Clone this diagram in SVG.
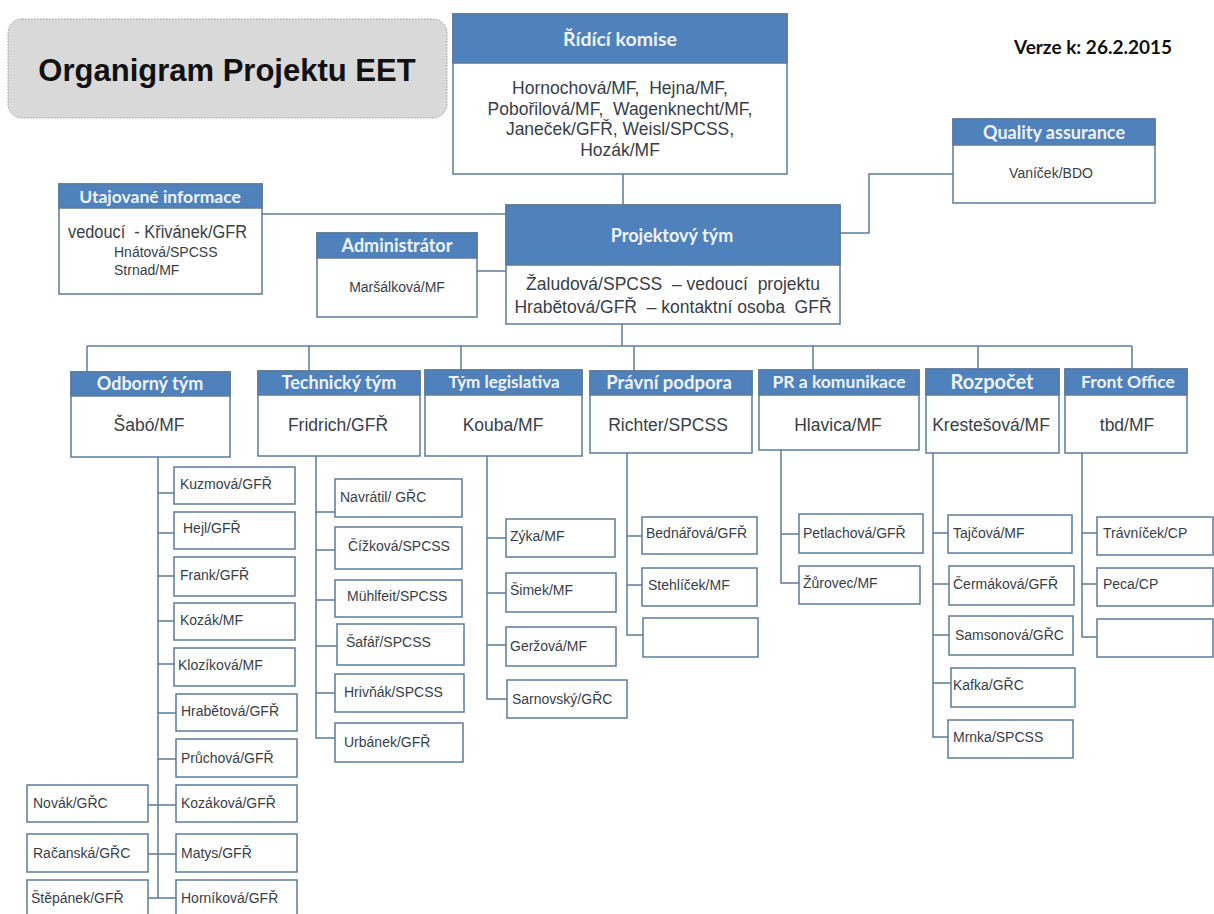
<svg xmlns="http://www.w3.org/2000/svg" width="1214" height="914" viewBox="0 0 1214 914">
  <style>
    .box { fill: #ffffff; stroke: #5e7b98; stroke-width: 1.5; }
    .hdr { fill: #4f81bd; stroke: #5e7b98; stroke-width: 1.5; }
    .ln { fill: none; stroke: #5e7b98; stroke-width: 1.5; }
    .ht { font-family: Lato, "Open Sans", sans-serif; font-weight: bold; fill: #eef3fa; text-anchor: middle; }
    .bt { font-family: "Liberation Sans", Arial, sans-serif; fill: #383e48; white-space: pre; }
    .c { text-anchor: middle; }
    .s { font-size: 14px; }
    .m { font-size: 17.5px; }
  </style>

  <!-- title -->
  <g id="title">
    <rect x="8" y="19" width="439" height="99" rx="14" fill="#d9d9d9" stroke="#9a9a9a" stroke-width="1" stroke-dasharray="1.5 1.5"/>
    <text x="227" y="81" font-family="Liberation Sans, Arial, sans-serif" font-weight="bold" font-size="31" fill="#111" text-anchor="middle">Organigram Projektu EET</text>
  </g>

  <g id="version">
    <text x="1093" y="54" font-family="Lato, sans-serif" font-weight="bold" font-size="19" fill="#111" text-anchor="middle">Verze k: 26.2.2015</text>
  </g>

  <!-- connectors -->
  <g id="connectors" class="ln">
    <path d="M623 174V205"/>
    <path d="M262 214H506"/>
    <path d="M477 271H506"/>
    <path d="M953 174H869V233H840"/>
    <path d="M622 324V346"/>
    <path d="M87 346H1132"/>
    <path d="M87 346V372M309 346V371M461 346V370M634 346V371M813 346V370M978 346V369M1132 346V369"/>
    <!-- Odborný tým -->
    <path d="M158 457V898M158 493H174M158 533H174M158 576H174M158 621H174M158 664H174M158 713H176M158 759H176"/>
    <path d="M148 805H176M148 854H176M148 898H176"/>
    <!-- Technický tým -->
    <path d="M316 437V738H335M316 512H335M316 550H335M316 600H335M316 646H337M316 693H335"/>
    <!-- Tým legislativa -->
    <path d="M487 456V699H507M487 538H506M487 593H506M487 645H506"/>
    <!-- Právní podpora -->
    <path d="M627 453V635H643M627 536H642M627 585H642"/>
    <!-- PR a komunikace -->
    <path d="M781 450V583H799M781 534H799"/>
    <!-- Rozpočet -->
    <path d="M933 453V737H948M933 533H948M933 584H949M933 635H949M933 683H951"/>
    <!-- Front Office -->
    <path d="M1082 453V637H1097M1082 533H1097M1082 584H1097"/>
  </g>

  <!-- top level -->
  <g id="ridici-komise">
    <rect class="box" x="453" y="14" width="334" height="160"/>
    <rect class="hdr" x="453" y="14" width="334" height="49"/>
    <text class="ht" x="620" y="46" font-size="19.5">Řídící komise</text>
    <text class="bt m c" x="620" y="94">Hornochová/MF,  Hejna/MF,</text>
    <text class="bt m c" x="620" y="114.5">Pobořilová/MF,  Wagenknecht/MF,</text>
    <text class="bt m c" x="620" y="135">Janeček/GFŘ, Weisl/SPCSS,</text>
    <text class="bt m c" x="620" y="155.5">Hozák/MF</text>
  </g>

  <g id="quality-assurance">
    <rect class="box" x="953" y="119" width="202" height="84"/>
    <rect class="hdr" x="953" y="119" width="202" height="26"/>
    <text class="ht" x="1054" y="139" font-size="18">Quality assurance</text>
    <text class="bt s c" x="1051" y="178">Vaníček/BDO</text>
  </g>

  <g id="utajovane-informace">
    <rect class="box" x="59" y="184" width="203" height="110"/>
    <rect class="hdr" x="59" y="184" width="203" height="24"/>
    <text class="ht" x="160" y="203" font-size="17.5">Utajované informace</text>
    <text class="bt" x="68" y="238" font-size="18" textLength="179" lengthAdjust="spacingAndGlyphs">vedoucí  - Křivánek/GFR</text>
    <text class="bt s" x="114" y="257">Hnátová/SPCSS</text>
    <text class="bt s" x="114" y="275">Strnad/MF</text>
  </g>

  <g id="administrator">
    <rect class="box" x="317" y="233" width="160" height="84"/>
    <rect class="hdr" x="317" y="233" width="160" height="25"/>
    <text class="ht" x="397" y="252" font-size="18">Administrátor</text>
    <text class="bt s c" x="397" y="292">Maršálková/MF</text>
  </g>

  <g id="projektovy-tym">
    <rect class="box" x="506" y="205" width="334" height="119"/>
    <rect class="hdr" x="506" y="205" width="334" height="60"/>
    <text class="ht" x="672" y="242" font-size="18">Projektový tým</text>
    <text class="bt m c" x="673" y="290">Žaludová/SPCSS  – vedoucí  projektu</text>
    <text class="bt m c" x="673" y="313">Hrabětová/GFŘ  – kontaktní osoba  GFŘ</text>
  </g>

  <!-- teams -->
  <g id="odborny-tym">
    <rect class="box" x="71" y="372" width="159" height="85"/>
    <rect class="hdr" x="71" y="372" width="159" height="24"/>
    <text class="ht" x="150" y="390" font-size="18">Odborný tým</text>
    <text class="bt m c" x="149" y="431">Šabó/MF</text>
  </g>
  <g id="technicky-tym">
    <rect class="box" x="258" y="371" width="162" height="85"/>
    <rect class="hdr" x="258" y="371" width="162" height="24"/>
    <text class="ht" x="339" y="389" font-size="18">Technický tým</text>
    <text class="bt m c" x="338" y="431">Fridrich/GFŘ</text>
  </g>
  <g id="tym-legislativa">
    <rect class="box" x="425" y="370" width="157" height="86"/>
    <rect class="hdr" x="425" y="370" width="157" height="25"/>
    <text class="ht" x="504" y="388" font-size="17">Tým legislativa</text>
    <text class="bt m c" x="503" y="431">Kouba/MF</text>
  </g>
  <g id="pravni-podpora">
    <rect class="box" x="590" y="371" width="162" height="82"/>
    <rect class="hdr" x="590" y="371" width="162" height="24"/>
    <text class="ht" x="669" y="389" font-size="18.5">Právní podpora</text>
    <text class="bt m c" x="668" y="431">Richter/SPCSS</text>
  </g>
  <g id="pr-komunikace">
    <rect class="box" x="759" y="370" width="160" height="80"/>
    <rect class="hdr" x="759" y="370" width="160" height="25"/>
    <text class="ht" x="839" y="388" font-size="17.5">PR a komunikace</text>
    <text class="bt m c" x="838" y="431">Hlavica/MF</text>
  </g>
  <g id="rozpocet">
    <rect class="box" x="926" y="369" width="133" height="84"/>
    <rect class="hdr" x="926" y="369" width="133" height="26"/>
    <text class="ht" x="992" y="389" font-size="20" font-family="Liberation Sans, Arial, sans-serif">Rozpočet</text>
    <text class="bt m c" x="991" y="431">Krestešová/MF</text>
  </g>
  <g id="front-office">
    <rect class="box" x="1065" y="369" width="122" height="84"/>
    <rect class="hdr" x="1065" y="369" width="122" height="26"/>
    <text class="ht" x="1128" y="388" font-size="17.5">Front Office</text>
    <text class="bt m c" x="1127" y="431">tbd/MF</text>
  </g>

  <!-- members: Odborný tým -->
  <g id="kuzmova"><rect class="box" x="174" y="467" width="121" height="37"/><text class="bt s" x="180" y="489">Kuzmová/GFŘ</text></g>
  <g id="hejl"><rect class="box" x="174" y="512" width="121" height="37"/><text class="bt s" x="183" y="533">Hejl/GFŘ</text></g>
  <g id="frank"><rect class="box" x="174" y="557" width="121" height="39"/><text class="bt s" x="180" y="580">Frank/GFŘ</text></g>
  <g id="kozak"><rect class="box" x="174" y="603" width="121" height="37"/><text class="bt s" x="180" y="625">Kozák/MF</text></g>
  <g id="klozikova"><rect class="box" x="174" y="648" width="121" height="38"/><text class="bt s" x="178" y="670">Klozíková/MF</text></g>
  <g id="hrabetova"><rect class="box" x="176" y="694" width="121" height="37"/><text class="bt s" x="181" y="716">Hrabětová/GFŘ</text></g>
  <g id="pruchova"><rect class="box" x="176" y="739" width="121" height="38"/><text class="bt s" x="181" y="763">Průchová/GFŘ</text></g>
  <g id="kozakova"><rect class="box" x="176" y="785" width="121" height="37"/><text class="bt s" x="181" y="808">Kozáková/GFŘ</text></g>
  <g id="matys"><rect class="box" x="176" y="834" width="121" height="38"/><text class="bt s" x="181" y="858">Matys/GFŘ</text></g>
  <g id="hornikova"><rect class="box" x="176" y="880" width="121" height="40"/><text class="bt s" x="181" y="903">Horníková/GFŘ</text></g>
  <g id="novak"><rect class="box" x="27" y="785" width="121" height="37"/><text class="bt s" x="33" y="808">Novák/GŘC</text></g>
  <g id="racanska"><rect class="box" x="27" y="834" width="121" height="38"/><text class="bt s" x="33" y="858">Račanská/GŘC</text></g>
  <g id="stepanek"><rect class="box" x="27" y="880" width="121" height="40"/><text class="bt s" x="31" y="903">Štěpánek/GFŘ</text></g>

  <!-- members: Technický tým -->
  <g id="navratil"><rect class="box" x="335" y="479" width="127" height="38"/><text class="bt s" x="340" y="502">Navrátil/ GŘC</text></g>
  <g id="cizkova"><rect class="box" x="335" y="527" width="127" height="42"/><text class="bt s" x="348" y="551">Čížková/SPCSS</text></g>
  <g id="muhlfeit"><rect class="box" x="335" y="580" width="127" height="37"/><text class="bt s" x="347" y="601">Mühlfeit/SPCSS</text></g>
  <g id="safar"><rect class="box" x="337" y="624" width="127" height="41"/><text class="bt s" x="346" y="647">Šafář/SPCSS</text></g>
  <g id="hrivnak"><rect class="box" x="335" y="674" width="129" height="38"/><text class="bt s" x="344" y="697">Hrivňák/SPCSS</text></g>
  <g id="urbanek"><rect class="box" x="335" y="723" width="128" height="39"/><text class="bt s" x="344" y="747">Urbánek/GFŘ</text></g>

  <!-- members: Tým legislativa -->
  <g id="zyka"><rect class="box" x="506" y="519" width="109" height="38"/><text class="bt s" x="510" y="541">Zýka/MF</text></g>
  <g id="simek"><rect class="box" x="506" y="573" width="110" height="39"/><text class="bt s" x="510" y="595">Šimek/MF</text></g>
  <g id="gerzova"><rect class="box" x="506" y="627" width="110" height="39"/><text class="bt s" x="510" y="651">Geržová/MF</text></g>
  <g id="sarnovsky"><rect class="box" x="507" y="680" width="120" height="38"/><text class="bt s" x="512" y="704">Sarnovský/GŘC</text></g>

  <!-- members: Právní podpora -->
  <g id="bednarova"><rect class="box" x="642" y="517" width="115" height="37"/><text class="bt s" x="646" y="538">Bednářová/GFŘ</text></g>
  <g id="stehlicek"><rect class="box" x="642" y="568" width="115" height="38"/><text class="bt s" x="648" y="590">Stehlíček/MF</text></g>
  <g id="pravni-volne"><rect class="box" x="643" y="618" width="115" height="39"/></g>

  <!-- members: PR a komunikace -->
  <g id="petlachova"><rect class="box" x="799" y="514" width="124" height="39"/><text class="bt s" x="803" y="538">Petlachová/GFŘ</text></g>
  <g id="zurovec"><rect class="box" x="799" y="566" width="121" height="38"/><text class="bt s" x="803" y="588">Žůrovec/MF</text></g>

  <!-- members: Rozpočet -->
  <g id="tajcova"><rect class="box" x="948" y="515" width="124" height="38"/><text class="bt s" x="953" y="538">Tajčová/MF</text></g>
  <g id="cermakova"><rect class="box" x="949" y="566" width="125" height="39"/><text class="bt s" x="953" y="589">Čermáková/GFŘ</text></g>
  <g id="samsonova"><rect class="box" x="949" y="616" width="124" height="39"/><text class="bt s" x="955" y="640">Samsonová/GŘC</text></g>
  <g id="kafka"><rect class="box" x="951" y="668" width="124" height="39"/><text class="bt s" x="953" y="690">Kafka/GŘC</text></g>
  <g id="mrnka"><rect class="box" x="948" y="720" width="125" height="38"/><text class="bt s" x="953" y="742">Mrnka/SPCSS</text></g>

  <!-- members: Front Office -->
  <g id="travnicek"><rect class="box" x="1097" y="517" width="116" height="38"/><text class="bt s" x="1103" y="538">Trávníček/CP</text></g>
  <g id="peca"><rect class="box" x="1097" y="568" width="116" height="38"/><text class="bt s" x="1103" y="589">Peca/CP</text></g>
  <g id="front-volne"><rect class="box" x="1097" y="619" width="116" height="38"/></g>
</svg>
